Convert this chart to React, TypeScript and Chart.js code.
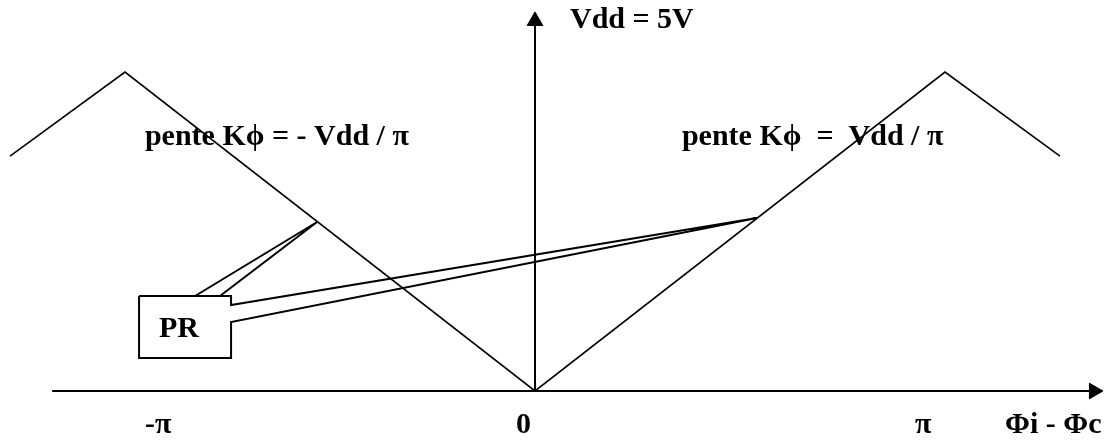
import React, { useEffect, useRef } from "react";
import { Chart, registerables } from "chart.js";

Chart.register(...registerables);

// Phase difference (radians) and output voltage (V)
const waveX = [-4.023, -Math.PI, 0, Math.PI, 4.023];
const waveY = [3.68, 5, 0, 5, 3.68];

// Axes (data units)
const xAxisX = [-3.7, 4.283];
const xAxisY = [0, 0];
const yAxisX = [0, 0];
const yAxisY = [0, 5.8];

// Arrow heads
const arrowX = [4.283, 0];
const arrowY = [0, 5.8];
const arrowRot = [90, 0];

// "PR" callout box with its pointer to the right slope
const boxX = [-3.034, -2.329, -2.329, 1.701, -2.329, -2.329, -3.034, -3.034];
const boxY = [1.489, 1.489, 1.348, 2.712, 1.081, 0.517, 0.517, 1.489];
// pointer to the left slope
const ptrX = [-2.605, -1.67, -2.414];
const ptrY = [1.489, 2.649, 1.489];

// Text labels: text, x, y (left / baseline)
const labelText = ["Vdd = 5V", "pente K\u03D5 = - Vdd / \u03C0", "pente K\u03D5  =  Vdd / \u03C0", "-\u03C0", "0", "\u03C0", "\u03A6i - \u03A6c", "PR"];
const labelX = [0.268, -2.989, 1.126, -2.989, -0.146, 2.912, 3.602, -2.881];
const labelY = [5.69, 3.856, 3.856, -0.658, -0.658, -0.658, -0.658, 0.846];

const X_MIN = -4.0996;
const X_MAX = 4.3985;
const Y_MIN = -0.8934;
const Y_MAX = 6.1285;

const pts = (xs: number[], ys: number[]) => xs.map((x, i) => ({ x, y: ys[i] }));

const textPlugin = {
  id: "labels",
  afterDatasetsDraw(chart: any) {
    const ctx = chart.ctx;
    const xs = chart.scales.x;
    const ys = chart.scales.y;
    ctx.save();
    ctx.fillStyle = "#000";
    ctx.font = 'bold 30px "Liberation Serif", "DejaVu Serif", serif';
    ctx.textAlign = "left";
    ctx.textBaseline = "alphabetic";
    labelText.forEach((t, i) => {
      ctx.fillText(t, xs.getPixelForValue(labelX[i]), ys.getPixelForValue(labelY[i]));
    });
    ctx.restore();
  },
};

export default function App() {
  const ref = useRef<HTMLCanvasElement | null>(null);
  useEffect(() => {
    if (!ref.current) return;
    const line = (data: any, width: number) => ({
      data,
      showLine: true,
      borderColor: "#000",
      borderWidth: width,
      pointRadius: 0,
      tension: 0,
      fill: false,
      clip: false as any,
    });
    const chart = new Chart(ref.current, {
      type: "scatter",
      data: {
        datasets: [
          line(pts(waveX, waveY), 1.6),
          line(pts(xAxisX, xAxisY), 2),
          line(pts(yAxisX, yAxisY), 2),
          line(pts(boxX, boxY), 2),
          line(pts(ptrX, ptrY), 2),
          {
            data: pts(arrowX, arrowY),
            showLine: false,
            pointStyle: "triangle",
            pointRadius: 9,
            rotation: arrowRot,
            backgroundColor: "#000",
            borderColor: "#000",
            borderWidth: 1,
            clip: false as any,
          } as any,
        ],
      },
      options: {
        animation: false,
        responsive: true,
        maintainAspectRatio: false,
        layout: { padding: 0, autoPadding: false },
        plugins: { legend: { display: false }, tooltip: { enabled: false } },
        events: [],
        scales: {
          x: { type: "linear", min: X_MIN, max: X_MAX, display: false },
          y: { type: "linear", min: Y_MIN, max: Y_MAX, display: false },
        },
      },
      plugins: [textPlugin],
    });
    return () => chart.destroy();
  }, []);
  return (
    <div style={{ position: "absolute", left: 0, top: 0, width: 1109, height: 448, background: "#fff" }}>
      <canvas ref={ref} />
    </div>
  );
}
